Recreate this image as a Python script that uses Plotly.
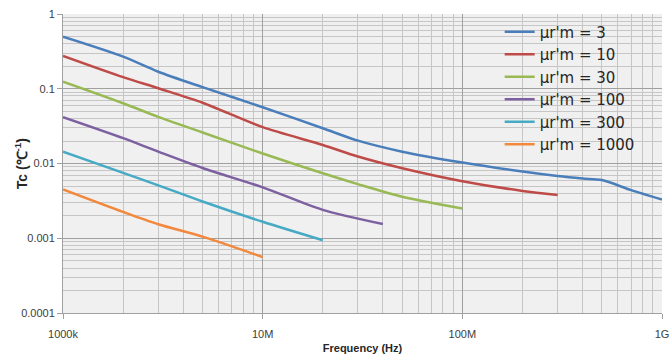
import plotly.graph_objects as go

freq_3 = [1e6, 2e6, 3e6, 5e6, 1e7, 2e7, 3e7, 5e7, 1e8, 2e8, 3e8, 4e8, 5e8, 7e8, 1e9]
tc_3 = [0.497, 0.269, 0.169, 0.105, 0.0566, 0.0296, 0.0202, 0.0144, 0.0103, 0.0078, 0.0068, 0.0063, 0.0060, 0.0044, 0.0033]

freq_10 = [1e6, 2e6, 3e6, 5e6, 1e7, 2e7, 3e7, 5e7, 1e8, 2e8, 3e8]
tc_10 = [0.275, 0.143, 0.1016, 0.065, 0.0306, 0.0177, 0.0124, 0.00865, 0.0058, 0.0043, 0.0038]

freq_30 = [1e6, 2e6, 3e6, 5e6, 1e7, 2e7, 3e7, 5e7, 1e8]
tc_30 = [0.1245, 0.064, 0.042, 0.026, 0.0136, 0.0074, 0.0053, 0.0036, 0.0025]

freq_100 = [1e6, 2e6, 3e6, 5e6, 1e7, 2e7, 4e7]
tc_100 = [0.0416, 0.0218, 0.0144, 0.0087, 0.0048, 0.0024, 0.00155]

freq_300 = [1e6, 2e6, 3e6, 5e6, 1e7, 2e7]
tc_300 = [0.0144, 0.0075, 0.0051, 0.0031, 0.00166, 0.00094]

freq_1000 = [1e6, 2e6, 3e6, 5e6, 1e7]
tc_1000 = [0.0045, 0.00225, 0.00154, 0.00105, 0.00056]

names = ["μr'm = 3", "μr'm = 10", "μr'm = 30", "μr'm = 100", "μr'm = 300", "μr'm = 1000"]
colors = ["#4A7EBB", "#BE4B48", "#98B954", "#7D60A0", "#46AAC5", "#F2883C"]

x_tickvals = [1e6, 1e7, 1e8, 1e9]
x_ticktext = ["1000k", "10M", "100M", "1G"]
y_tickvals = [1, 0.1, 0.01, 0.001, 0.0001]
y_ticktext = ["1", "0.1", "0.01", "0.001", "0.0001"]
y_title = "<b>Tc (℃<sup>-1</sup>)</b>"
x_title = "<b>Frequency (Hz)</b>"

series = [(freq_3, tc_3), (freq_10, tc_10), (freq_30, tc_30),
          (freq_100, tc_100), (freq_300, tc_300), (freq_1000, tc_1000)]

fig = go.Figure()
for (fx, fy), n, c in zip(series, names, colors):
    fig.add_trace(go.Scatter(x=fx, y=fy, mode="lines", name=n,
                             line=dict(color=c, width=2.5, shape="spline", smoothing=0.8)))

fig.update_layout(
    width=670, height=357,
    margin=dict(l=63, r=8, t=14, b=44),
    paper_bgcolor="white",
    plot_bgcolor="#F0F0F0",
    font=dict(family="Liberation Sans, Arial, sans-serif", color="#404040"),
    legend=dict(x=0.729, y=0.995, xanchor="left", yanchor="top",
                bgcolor="rgba(0,0,0,0)", font=dict(size=15, color="#262626", family="DejaVu Sans, sans-serif"),
                itemwidth=30, tracegroupgap=0),
    xaxis=dict(type="log", range=[6, 9], tickvals=x_tickvals, ticktext=x_ticktext,
               automargin=False, ticklabelstandoff=6,
               showgrid=True, gridcolor="#A0A0A0", gridwidth=1,
               minor=dict(dtick="D1", showgrid=True, gridcolor="#C6C6C6", gridwidth=1, ticks=""),
               ticks="outside", ticklen=5, tickcolor="#A0A0A0",
               showline=True, linecolor="#A0A0A0", zeroline=False,
               tickfont=dict(size=11, color="#404040"),
               title=dict(text=x_title, font=dict(size=11, color="#262626"), standoff=5)),
    yaxis=dict(type="log", range=[-4, 0], tickvals=y_tickvals, ticktext=y_ticktext,
               automargin=False,
               showgrid=True, gridcolor="#A0A0A0", gridwidth=1,
               minor=dict(dtick="D1", showgrid=True, gridcolor="#C6C6C6", gridwidth=1, ticks=""),
               ticks="outside", ticklen=5, tickcolor="#A0A0A0",
               showline=True, linecolor="#A0A0A0", zeroline=False,
               tickfont=dict(size=11, color="#404040")),
    annotations=[dict(text=y_title, xref="paper", yref="paper", x=-0.0705, y=0.5,
                      xanchor="center", yanchor="middle", textangle=-90, showarrow=False,
                      font=dict(size=14, color="#262626"))],
)

fig.write_html("out.html", config={"displayModeBar": False},
               post_script="document.body.style.margin='0';")
